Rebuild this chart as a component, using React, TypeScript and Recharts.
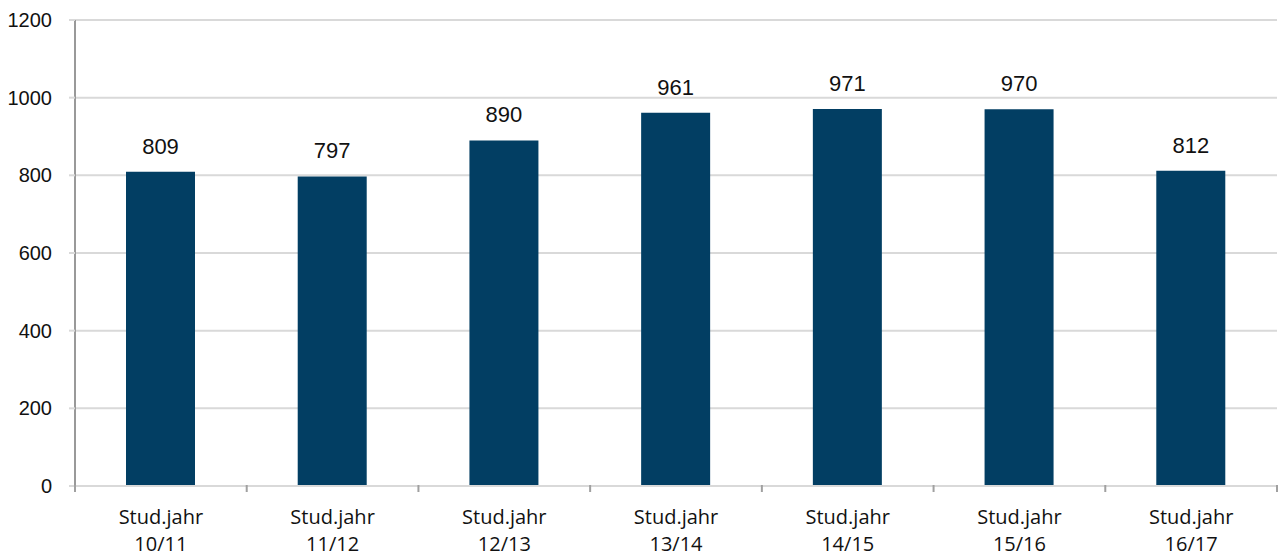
import React from 'react';
import { BarChart, Bar, XAxis, YAxis, CartesianGrid, LabelList } from 'recharts';

const years = ['10/11', '11/12', '12/13', '13/14', '14/15', '15/16', '16/17'];
const students = [809, 797, 890, 961, 971, 970, 812];
const yTicks = [0, 200, 400, 600, 800, 1000, 1200];
const boundaryTicks = [0, 1, 2, 3, 4, 5, 6, 7];

const chartData = years.map((y, i) => ({ year: y, value: students[i], pos: i + 0.5 }));

const CategoryTick = (props: any) => {
  const { x, y, payload } = props;
  return (
    <g transform={`translate(${x},${y})`}>
      <text
        textAnchor="middle"
        fill="#111"
        style={{ fontFamily: '"Open Sans", sans-serif', fontSize: '20px' }}
      >
        <tspan x={0} dy={37}>Stud.jahr</tspan>
        <tspan x={0} dy={27}>{payload.value}</tspan>
      </text>
    </g>
  );
};

const EdgeTick = (props: any) => {
  const { x, y } = props;
  return <line x1={x} x2={x} y1={y - 1} y2={y + 6} stroke="#a0a0a0" strokeWidth={2} />;
};

export default function App() {
  return (
    <div style={{ width: 1279, height: 556 }}>
      <style>{`body{margin:0}`}</style>
      <BarChart
        width={1279}
        height={556}
        data={chartData}
        margin={{ top: 20, right: 2, left: 0, bottom: 0 }}
        barSize={69}
      >
        <CartesianGrid stroke="#d9d9d9" strokeWidth={2} vertical={false} />
        <XAxis
          xAxisId="a_edge"
          dataKey="pos"
          type="number"
          domain={[0, 7]}
          ticks={boundaryTicks}
          interval={0}
          axisLine={{ stroke: '#d9d9d9', strokeWidth: 2 }}
          tickLine={false}
          tickSize={0}
          tickMargin={0}
          tick={<EdgeTick />}
          height={1}
          orientation="bottom"
        />
        <XAxis
          dataKey="year"
          xAxisId="b_cat"
          axisLine={false}
          tickLine={false}
          tickSize={0}
          tickMargin={0}
          tick={<CategoryTick />}
          interval={0}
          height={69}
        />
        <YAxis
          domain={[0, 1200]}
          ticks={yTicks}
          width={75}
          axisLine={{ stroke: '#999', strokeWidth: 2 }}
          tickLine={{ stroke: '#d9d9d9', strokeWidth: 2 }}
          tickSize={6}
          tickMargin={17}
          tick={{ fill: '#111', fontSize: 20, fontFamily: '"Liberation Sans", Arial, sans-serif' }}
        />
        <Bar dataKey="value" xAxisId="b_cat" fill="#023e63" isAnimationActive={false}>
          <LabelList
            dataKey="value"
            position="top"
            offset={18}
            fill="#111"
            style={{ fontSize: '22px', fontFamily: '"Liberation Sans", Arial, sans-serif' }}
          />
        </Bar>
      </BarChart>
    </div>
  );
}
